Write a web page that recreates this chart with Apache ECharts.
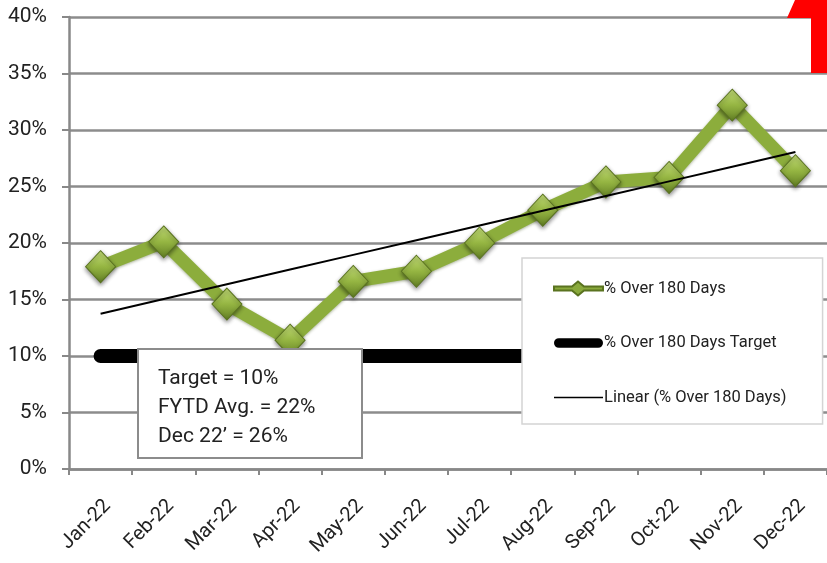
<!DOCTYPE html>
<html><head><meta charset="utf-8">
<script src="https://cdn.jsdelivr.net/npm/echarts@6/dist/echarts.min.js"></script>
<style>html,body{margin:0;padding:0;background:#fff}#c{width:827px;height:563px}</style>
</head><body><div id="c"></div>
<script>
const categories = ['Jan-22','Feb-22','Mar-22','Apr-22','May-22','Jun-22','Jul-22','Aug-22','Sep-22','Oct-22','Nov-22','Dec-22'];
const overDays = [17.9, 20.1, 14.6, 11.4, 16.6, 17.5, 20.0, 22.9, 25.4, 25.8, 32.2, 26.4];
const targetVals = [10, 10, 10, 10, 10, 10, 10, 10, 10, 10, 10, 10];
const yTicks = [0, 5, 10, 15, 20, 25, 30, 35, 40];
const noteLines = ['Target = 10%', 'FYTD Avg. = 22%', 'Dec 22\u2019 = 26%'];
const seriesNames = ['% Over 180 Days', '% Over 180 Days Target', 'Linear (% Over 180 Days)'];

// linear trendline (least squares) from the data
const n = overDays.length;
const xs = overDays.map((_, i) => i + 1);
const mx = xs.reduce((a, b) => a + b, 0) / n;
const my = overDays.reduce((a, b) => a + b, 0) / n;
let sxy = 0, sxx = 0;
for (let i = 0; i < n; i++) { sxy += (xs[i] - mx) * (overDays[i] - my); sxx += (xs[i] - mx) ** 2; }
const slope = sxy / sxx, icpt = my - slope * mx;
const trend = xs.map(x => +(icpt + slope * x).toFixed(3));

const FONT = "Roboto, 'DejaVu Sans', sans-serif";
const chart = echarts.init(document.getElementById('c'), null, {renderer: 'canvas'});
const diamondColor = new echarts.graphic.LinearGradient(0, 0, 0, 1, [
  {offset: 0, color: '#c6e07a'}, {offset: 0.5, color: '#95b542'}, {offset: 1, color: '#627f24'}]);

chart.setOption({
  backgroundColor: '#fff',
  animation: false,
  grid: {left: 69, top: 17, width: 763, height: 452, containLabel: false},
  legend: {
    orient: 'vertical', left: 522, top: 258,
    padding: [22, 36, 18, 31], itemGap: 37.5, itemWidth: 49, itemHeight: 14,
    backgroundColor: '#fff', borderColor: '#d4d4d4', borderWidth: 1.5,
    textStyle: {fontFamily: FONT, fontSize: 16.5, color: '#222', padding: [0, 0, 0, -4]},
    data: [
      {name: seriesNames[0], icon: 'path://M0,5 L18,5 L24,0 L30,5 L49,5 L49,9 L30,9 L24,14 L18,9 L0,9 Z', itemStyle: {color: '#8aaa3c'}},
      {name: seriesNames[1], icon: 'path://M4,2 L45,2 A5,5 0 0 1 45,12 L4,12 A5,5 0 0 1 4,2 Z', itemStyle: {color: '#000'}},
      {name: seriesNames[2], icon: 'path://M0,6.3 L49,6.3 L49,7.7 L0,7.7 Z', itemStyle: {color: '#000'}}
    ]
  },
  xAxis: {
    type: 'category', data: categories, boundaryGap: true,
    axisLine: {lineStyle: {color: '#888', width: 2.5}},
    axisTick: {show: true, length: 6, lineStyle: {color: '#888', width: 2}},
    axisLabel: {rotate: 45, margin: 27, verticalAlign: 'top', fontFamily: FONT, fontSize: 20, color: '#222'}
  },
  yAxis: {
    type: 'value', min: yTicks[0], max: yTicks[yTicks.length - 1], interval: 5,
    axisLine: {show: true, lineStyle: {color: '#888', width: 2.5}},
    axisTick: {show: true, length: 7, lineStyle: {color: '#888', width: 2}},
    axisLabel: {formatter: '{value}%', margin: 22, fontFamily: FONT, fontSize: 21, color: '#222'},
    splitLine: {lineStyle: {color: '#8c8c8c', width: 2.5}}
  },
  series: [
    {
      name: seriesNames[1], type: 'line', data: targetVals, z: 2,
      symbol: 'none', lineStyle: {color: '#000', width: 14, cap: 'round'}, itemStyle: {color: '#000'}
    },
    {
      name: seriesNames[0], type: 'line', data: overDays, z: 3,
      symbol: 'diamond', symbolSize: [30, 32],
      lineStyle: {color: '#8cad3c', width: 13, shadowColor: 'rgba(60,80,20,0.45)', shadowBlur: 3, shadowOffsetY: 1},
      itemStyle: {color: diamondColor, borderColor: '#5a7320', borderWidth: 1, shadowColor: 'rgba(0,0,0,0.45)', shadowBlur: 4, shadowOffsetY: 2}
    },
    {
      name: seriesNames[2], type: 'line', data: trend, z: 4,
      symbol: 'none', lineStyle: {color: '#000', width: 2}, itemStyle: {color: '#000'}
    }
  ],
  graphic: {elements: [
    {type: 'rect', z: 100, shape: {x: 138, y: 349, width: 224, height: 109}, style: {fill: '#ffffff', stroke: '#8c8c8c', lineWidth: 2}},
    {type: 'text', z: 101, x: 158, y: 364, style: {text: noteLines.join('\n'), font: "21px " + FONT, fill: '#222', lineHeight: 29}},
    {type: 'polygon', z: 100, shape: {points: [[795, 0], [827, 0], [827, 73], [811, 73], [811, 18], [787, 18]]}, style: {fill: '#ff0000'}}
  ]}
});
</script></body></html>
